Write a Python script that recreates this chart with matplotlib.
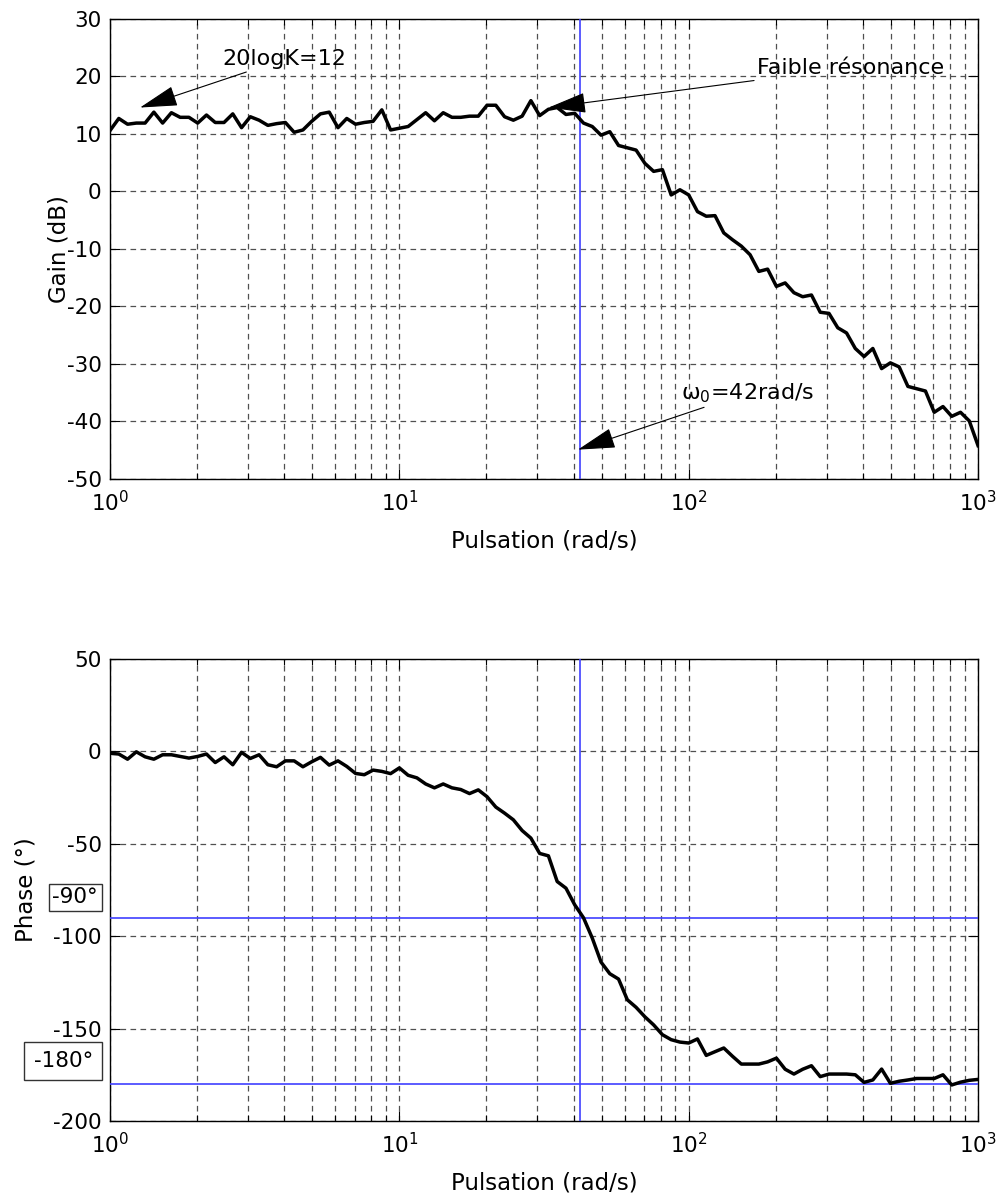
import numpy as np
import matplotlib
matplotlib.use("Agg")
import matplotlib.pyplot as plt
from matplotlib.ticker import LogLocator, FixedLocator, NullFormatter
import matplotlib.transforms as mtransforms

plt.rcParams['font.family'] = ['DejaVu Sans']
plt.rcParams['mathtext.fontset'] = 'dejavusans'
plt.rcParams['axes.unicode_minus'] = False

# ---- data ----
gain_db = [10.6, 12.7, 11.7, 11.9, 11.9, 13.8, 11.9, 13.7, 12.9, 12.9,
           11.9, 13.3, 12.0, 12.0, 13.5, 11.1, 13.0, 12.4, 11.5, 11.8,
           12.0, 10.3, 10.7, 12.2, 13.5, 13.8, 11.1, 12.7, 11.7, 12.0,
           12.2, 14.2, 10.7, 11.0, 11.3, 12.5, 13.7, 12.3, 13.7, 12.9,
           12.9, 13.1, 13.1, 15.0, 15.0, 13.0, 12.4, 13.1, 15.8, 13.2,
           14.3, 14.6, 13.4, 13.6, 11.9, 11.3, 9.8, 10.4, 8.0, 7.6,
           7.2, 4.9, 3.5, 3.8, -0.6, 0.3, -0.6, -3.5, -4.3, -4.2,
           -7.2, -8.4, -9.5, -11.0, -13.9, -13.5, -16.5, -15.9, -17.6, -18.3,
           -18.0, -21.0, -21.2, -23.7, -24.6, -27.3, -28.7, -27.3, -30.8, -29.8,
           -30.5, -33.9, -34.3, -34.7, -38.4, -37.4, -39.1, -38.4, -39.9, -44.2]

phase_deg = [-1.0, -1.4, -4.2, -0.2, -2.9, -4.2, -1.8, -1.8, -2.7, -3.6,
             -2.7, -1.4, -6.0, -2.9, -7.2, -0.5, -3.8, -1.8, -7.2, -8.3,
             -5.1, -5.1, -8.3, -5.6, -3.2, -7.4, -5.1, -8.1, -11.9, -12.6,
             -10.1, -10.8, -12.0, -8.9, -12.9, -14.3, -17.6, -19.7, -17.6, -19.7,
             -20.6, -22.8, -20.8, -24.5, -30.1, -33.4, -37.0, -42.8, -46.9, -55.2,
             -56.5, -70.4, -74.0, -83.0, -90.0, -101.0, -114.0, -120.3, -123.2, -134.4,
             -138.5, -143.6, -148.0, -153.3, -156.0, -157.3, -157.8, -155.6, -164.5, -162.5,
             -160.5, -165.0, -169.2, -169.2, -169.2, -168.0, -166.0, -172.0, -174.6, -172.0,
             -170.1, -176.0, -174.6, -174.6, -174.6, -175.0, -179.1, -177.8, -171.9, -179.6,
             -178.5, -177.8, -177.0, -177.0, -177.0, -175.0, -180.5, -179.0, -178.0, -177.5]

# sampling grid of the pulsation (MATLAB logspace(0,3,N))
omega = np.logspace(0, 3, len(gain_db))

omega0 = 42
ref_phases = [-90, -180]
gain_yticks = [-50, -40, -30, -20, -10, 0, 10, 20, 30]
phase_yticks = [-200, -150, -100, -50, 0, 50]
xtick_vals = [1, 10, 100, 1000]
xtick_labels = [r'$10^{0}$', r'$10^{1}$', r'$10^{2}$', r'$10^{3}$']
xlabel_txt = "Pulsation (rad/s)"

FS = 15.5      # tick labels
FS_ANN = 16    # annotations
FS_LAB = 16.5  # axis labels
BLUE = '#4040ff'
GRIDC = '#505050'

fig = plt.figure(figsize=(10.02, 12.02), dpi=100)
ax1 = fig.add_axes([0.1098, 0.6015, 0.8663, 0.3827])
ax2 = fig.add_axes([0.1098, 0.0674, 0.8663, 0.3843])

def style(ax, yticks):
    ax.set_xscale('log')
    ax.set_xlim(xtick_vals[0], xtick_vals[-1])
    ax.set_ylim(yticks[0], yticks[-1])
    ax.set_yticks(yticks)
    ax.xaxis.set_major_locator(FixedLocator(xtick_vals))
    ax.xaxis.set_minor_locator(LogLocator(base=10, subs=np.arange(2, 10)))
    ax.xaxis.set_minor_formatter(NullFormatter())
    ax.set_xticklabels(xtick_labels)
    ax.tick_params(which='both', direction='in', top=True, right=True,
                   labelsize=FS, width=0.8)
    ax.tick_params(which='major', length=7)
    ax.tick_params(which='minor', length=4)
    ax.tick_params(axis='x', pad=8)
    ax.tick_params(axis='y', pad=6)
    ax.grid(True, which='major', axis='both', color=GRIDC, lw=0.9,
            ls=(0, (4.5, 3.5)))
    ax.grid(True, which='minor', axis='x', color=GRIDC, lw=0.9,
            ls=(0, (4.5, 3.5)))
    ax.set_axisbelow(True)
    for s in ax.spines.values():
        s.set_linewidth(1.0)
        s.set_color('black')
    ax.set_xlabel(xlabel_txt, fontsize=FS_LAB, labelpad=10)

style(ax1, gain_yticks)
style(ax2, phase_yticks)

# gain
ax1.axvline(omega0, color=BLUE, lw=1.2, zorder=3)
ax1.plot(omega, gain_db, color='black', lw=2.5, zorder=4)
ax1.set_ylabel('Gain (dB)', fontsize=FS_LAB)
ax1.yaxis.set_label_coords(-0.046, 0.5)

arrow_kw = dict(arrowstyle='-|>,head_length=2.4,head_width=0.65', color='black',
                lw=0.8, shrinkA=0, shrinkB=0, mutation_scale=10)
ax1.annotate('20logK=12', xy=(1.27, 14.6), xytext=(2.45, 23.0),
             fontsize=FS_ANN, va='center', ha='left', arrowprops=arrow_kw, zorder=6)
ax1.annotate('Faible résonance', xy=(32.8, 14.6), xytext=(172, 21.5),
             fontsize=FS_ANN, va='center', ha='left', arrowprops=arrow_kw, zorder=6)
ax1.annotate('ω$_0$=42rad/s', xy=(41.4, -44.9), xytext=(94, -35.0),
             fontsize=FS_ANN, va='center', ha='left', arrowprops=arrow_kw, zorder=6)

# phase
ax2.axvline(omega0, color=BLUE, lw=1.2, zorder=3)
for p in ref_phases:
    ax2.axhline(p, color=BLUE, lw=1.2, zorder=3)
ax2.plot(omega, phase_deg, color='black', lw=2.5, zorder=4)
ax2.set_ylabel('Phase (°)', fontsize=FS_LAB)
ax2.yaxis.set_label_coords(-0.083, 0.5)

trans = mtransforms.blended_transform_factory(ax2.transAxes, ax2.transData)
ax2.text(-0.040, -79, '-90°', transform=trans, fontsize=FS, ha='center',
         va='center', clip_on=False,
         bbox=dict(boxstyle='square,pad=0.18', fc='white', ec='#333333', lw=1))
ax2.text(-0.054, -167.6, '-180°', transform=trans, fontsize=FS, ha='center',
         va='center', clip_on=False,
         bbox=dict(boxstyle='square,pad=0.42', fc='white', ec='#333333', lw=1))

fig.savefig('out.png', dpi=100)
